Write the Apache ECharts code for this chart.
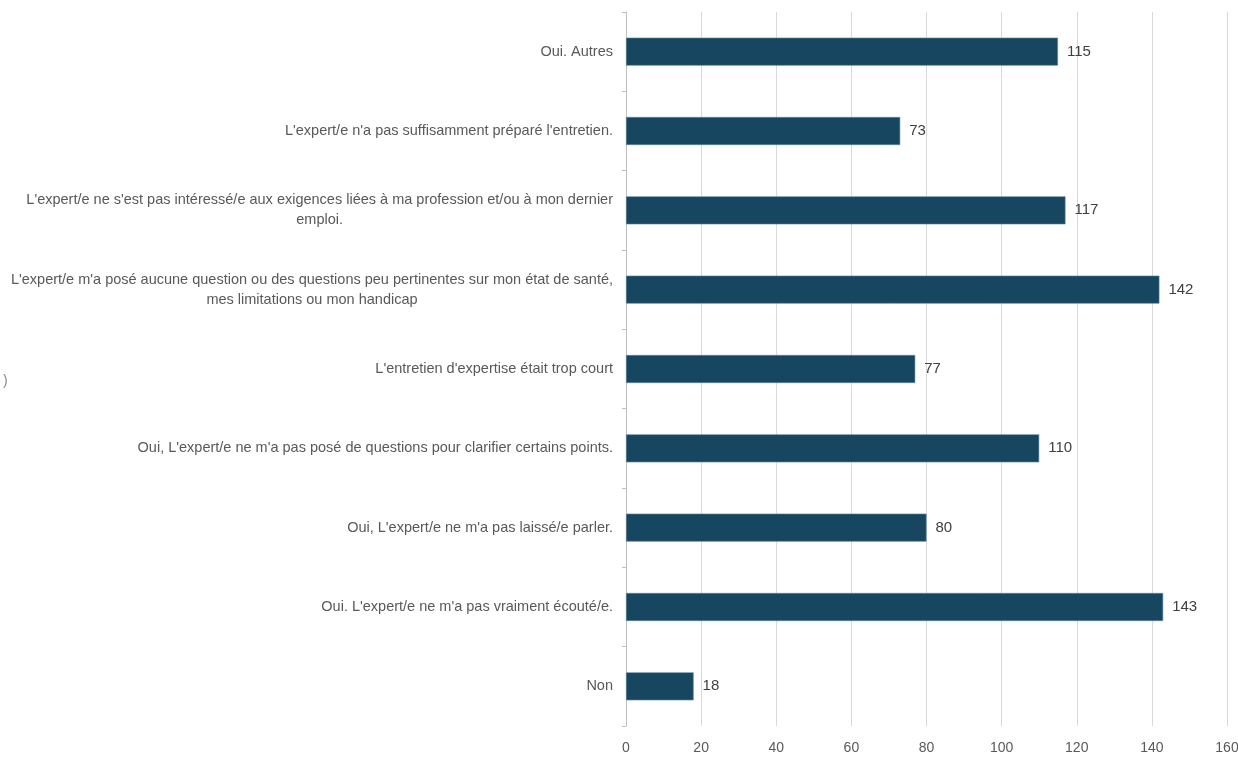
<!DOCTYPE html>
<html>
<head>
<meta charset="utf-8">
<script src="https://cdn.jsdelivr.net/npm/echarts@6/dist/echarts.min.js"></script>
<style>
html,body{margin:0;padding:0;background:#fff;}
#chart{width:1238px;height:767px;}
</style>
</head>
<body>
<div id="chart"></div>
<script>
// Categories listed top to bottom
const categories = [
  "Oui. Autres",
  "L'expert/e n'a pas suffisamment préparé l'entretien.",
  "L'expert/e ne s'est pas intéressé/e aux exigences liées à ma profession et/ou à mon dernier\nemploi.",
  "L'expert/e m'a posé aucune question ou des questions peu pertinentes sur mon état de santé,\nmes limitations ou mon handicap",
  "L'entretien d'expertise était trop court",
  "Oui, L'expert/e ne m'a pas posé de questions pour clarifier certains points.",
  "Oui, L'expert/e ne m'a pas laissé/e parler.",
  "Oui. L'expert/e ne m'a pas vraiment écouté/e.",
  "Non"
];
const values = [115, 73, 117, 142, 77, 110, 80, 143, 18];
const xTicks = [0, 20, 40, 60, 80, 100, 120, 140, 160];

const FONT = "'Liberation Sans', Arial, sans-serif";
const chart = echarts.init(document.getElementById('chart'), null, {renderer: 'canvas'});
chart.setOption({
  backgroundColor: '#ffffff',
  animation: false,
  grid: {left: 626, right: 11, top: 12, bottom: 41, containLabel: false, outerBoundsMode: 'none'},
  xAxis: {
    type: 'value',
    min: xTicks[0],
    max: xTicks[xTicks.length - 1],
    interval: xTicks[1] - xTicks[0],
    axisLine: {show: false},
    axisTick: {show: false},
    splitLine: {lineStyle: {color: '#d9d9d9', width: 1}},
    axisLabel: {color: '#595959', fontFamily: FONT, fontSize: 14, margin: 15}
  },
  yAxis: {
    type: 'category',
    data: categories,
    inverse: true,
    axisLine: {show: true, lineStyle: {color: '#bfbfbf', width: 1}},
    axisTick: {show: true, length: 4, lineStyle: {color: '#bfbfbf'}},
    axisLabel: {
      color: '#595959',
      fontFamily: FONT,
      fontSize: 14.5,
      margin: 13,
      lineHeight: 20,
      formatter: function (v) {
        return v.split('\n').map(function (l) { return '{c|' + l + '}'; }).join('\n');
      },
      rich: {
        c: {align: 'center', color: '#595959', fontFamily: FONT, fontSize: 14.5, lineHeight: 20}
      }
    }
  },
  series: [{
    type: 'bar',
    data: values,
    barWidth: 28,
    itemStyle: {color: '#174661', borderColor: '#5b87a0', borderWidth: 0.6},
    label: {
      show: true,
      position: 'right',
      distance: 9,
      color: '#404040',
      fontFamily: FONT,
      fontSize: 15
    }
  }],
  graphic: [{
    type: 'text',
    left: 3,
    top: 374,
    style: {text: ')', fill: '#8c8c8c', font: '14px ' + FONT}
  }]
});
</script>
</body>
</html>
